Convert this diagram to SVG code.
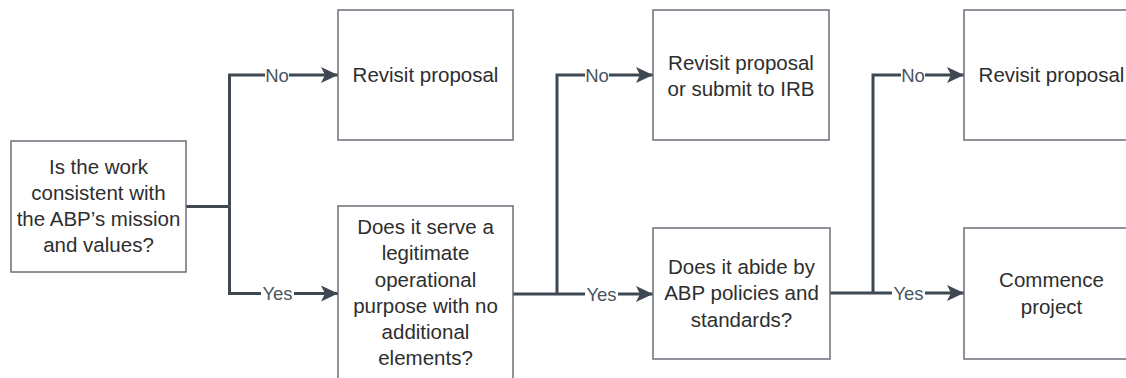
<svg xmlns="http://www.w3.org/2000/svg" width="1126" height="378" viewBox="0 0 1126 378">
<style>
.box{fill:#fff;stroke:#6b7078;stroke-width:1.5}
.t{font-family:"Liberation Sans",Arial,sans-serif;font-size:20.5px;fill:#2e2e2e;text-anchor:middle}
.c{fill:none;stroke:#3e4853;stroke-width:3}
.lb{font-family:"Liberation Sans",Arial,sans-serif;font-size:18.5px;fill:#4a5460;text-anchor:middle}
.bg{fill:#fff}
</style>
<defs>
<marker id="ah" markerUnits="userSpaceOnUse" markerWidth="17" markerHeight="16" refX="17" refY="8" orient="auto">
<path d="M0,0 L17,8 L0,16 L4,8 Z" fill="#3e4853"/>
</marker>
</defs>
<rect width="1126" height="378" fill="#fff"/>
<g id="connectors">
<path class="c" d="M186,206.5 H229.5"/>
<path class="c" d="M229.5,206.5 V75 H338" marker-end="url(#ah)"/>
<path class="c" d="M229.5,206.5 V293.5 H338" marker-end="url(#ah)"/>
<path class="c" d="M513,294 H557"/>
<path class="c" d="M557,294 V75 H653" marker-end="url(#ah)"/>
<path class="c" d="M557,294 H653" marker-end="url(#ah)"/>
<path class="c" d="M830,293 H873"/>
<path class="c" d="M873,293 V75 H964" marker-end="url(#ah)"/>
<path class="c" d="M873,293 H964" marker-end="url(#ah)"/>
<rect class="bg" x="265" y="66" width="24" height="18"/>
<text class="lb" x="277" y="81.5">No</text>
<rect class="bg" x="261" y="284" width="33" height="18"/>
<text class="lb" x="277.5" y="300">Yes</text>
<rect class="bg" x="585" y="66" width="24" height="18"/>
<text class="lb" x="597" y="81.5">No</text>
<rect class="bg" x="585" y="285" width="33" height="18"/>
<text class="lb" x="601.5" y="300.5">Yes</text>
<rect class="bg" x="901" y="66" width="24" height="18"/>
<text class="lb" x="913" y="81.5">No</text>
<rect class="bg" x="892" y="284" width="33" height="18"/>
<text class="lb" x="908.5" y="299.5">Yes</text>
</g>
<g id="n1">
<rect class="box" x="11" y="141" width="175" height="131"/>
<text class="t"><tspan x="98.5" y="174">Is the work</tspan><tspan x="98.5" y="200">consistent with</tspan><tspan x="98.5" y="226">the ABP’s mission</tspan><tspan x="98.5" y="252">and values?</tspan></text>
</g>
<g id="n2">
<rect class="box" x="338" y="10" width="175" height="130"/>
<text class="t" x="425.5" y="82">Revisit proposal</text>
</g>
<g id="n3">
<rect class="box" x="338" y="206" width="175" height="176"/>
<text class="t"><tspan x="425.5" y="234">Does it serve a</tspan><tspan x="425.5" y="260">legitimate</tspan><tspan x="425.5" y="287">operational</tspan><tspan x="425.5" y="313">purpose with no</tspan><tspan x="425.5" y="339">additional</tspan><tspan x="425.5" y="365">elements?</tspan></text>
</g>
<g id="n4">
<rect class="box" x="653" y="10" width="176" height="130"/>
<text class="t"><tspan x="741" y="70">Revisit proposal</tspan><tspan x="741" y="96">or submit to IRB</tspan></text>
</g>
<g id="n5">
<rect class="box" x="653" y="228" width="177" height="131"/>
<text class="t"><tspan x="741.5" y="274">Does it abide by</tspan><tspan x="741.5" y="300">ABP policies and</tspan><tspan x="741.5" y="327">standards?</tspan></text>
</g>
<g id="n6">
<rect class="box" x="964" y="10" width="175" height="130"/>
<text class="t" x="1051.5" y="82">Revisit proposal</text>
</g>
<g id="n7">
<rect class="box" x="964" y="228" width="175" height="131"/>
<text class="t"><tspan x="1051.5" y="287">Commence</tspan><tspan x="1051.5" y="314">project</tspan></text>
</g>
</svg>
